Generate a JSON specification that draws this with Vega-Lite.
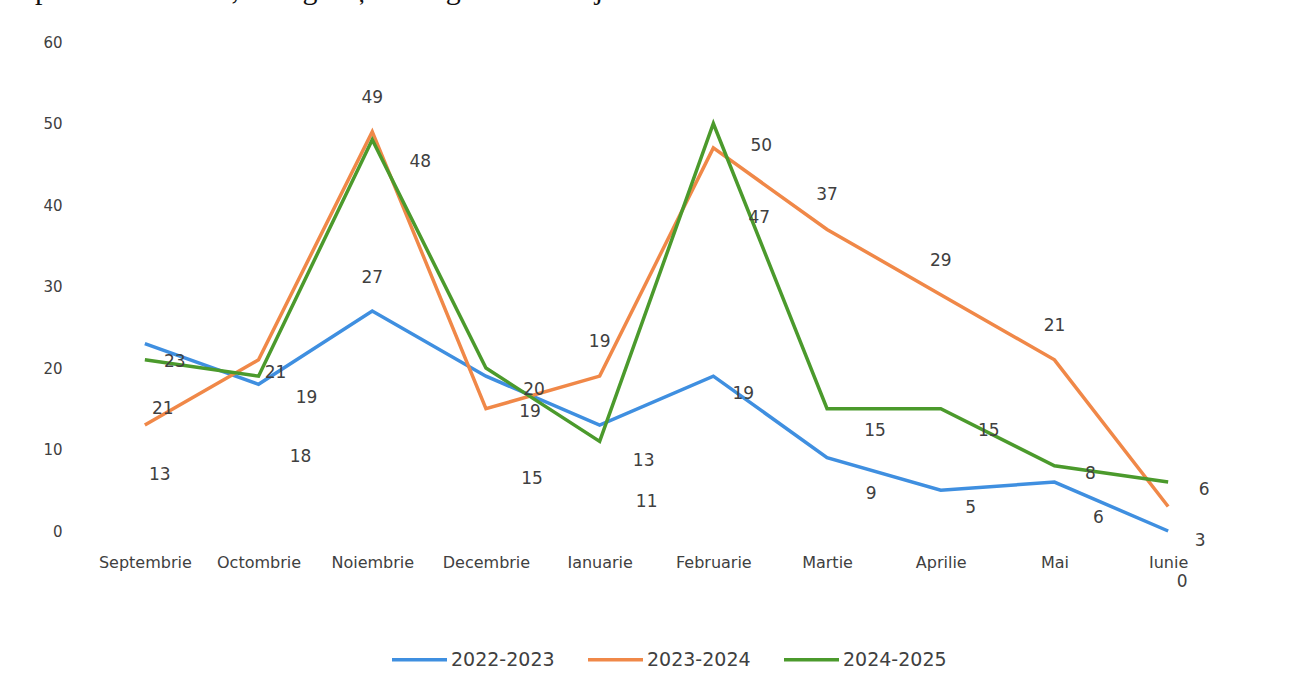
{
  "$schema": "https://vega.github.io/schema/vega-lite/v6.json",
  "autosize": {"type": "none"},
  "width": 1137,
  "height": 489,
  "padding": {"left": 88, "top": 42, "right": 77, "bottom": 157},
  "background": "white",
  "title": {
    "text": "septembrie – iunie, se regăsește în figura de mai jos.",
    "anchor": "start",
    "frame": "group",
    "dx": -78,
    "offset": 30,
    "font": "Liberation Serif",
    "fontSize": 30,
    "fontWeight": "normal",
    "color": "#111111"
  },
  "data": {
    "values": [
      {"month": "Septembrie", "season": "2022-2023", "value": 23},
      {"month": "Octombrie", "season": "2022-2023", "value": 18},
      {"month": "Noiembrie", "season": "2022-2023", "value": 27},
      {"month": "Decembrie", "season": "2022-2023", "value": 19},
      {"month": "Ianuarie", "season": "2022-2023", "value": 13},
      {"month": "Februarie", "season": "2022-2023", "value": 19},
      {"month": "Martie", "season": "2022-2023", "value": 9},
      {"month": "Aprilie", "season": "2022-2023", "value": 5},
      {"month": "Mai", "season": "2022-2023", "value": 6},
      {"month": "Iunie", "season": "2022-2023", "value": 0},
      {"month": "Septembrie", "season": "2023-2024", "value": 13},
      {"month": "Octombrie", "season": "2023-2024", "value": 21},
      {"month": "Noiembrie", "season": "2023-2024", "value": 49},
      {"month": "Decembrie", "season": "2023-2024", "value": 15},
      {"month": "Ianuarie", "season": "2023-2024", "value": 19},
      {"month": "Februarie", "season": "2023-2024", "value": 47},
      {"month": "Martie", "season": "2023-2024", "value": 37},
      {"month": "Aprilie", "season": "2023-2024", "value": 29},
      {"month": "Mai", "season": "2023-2024", "value": 21},
      {"month": "Iunie", "season": "2023-2024", "value": 3},
      {"month": "Septembrie", "season": "2024-2025", "value": 21},
      {"month": "Octombrie", "season": "2024-2025", "value": 19},
      {"month": "Noiembrie", "season": "2024-2025", "value": 48},
      {"month": "Decembrie", "season": "2024-2025", "value": 20},
      {"month": "Ianuarie", "season": "2024-2025", "value": 11},
      {"month": "Februarie", "season": "2024-2025", "value": 50},
      {"month": "Martie", "season": "2024-2025", "value": 15},
      {"month": "Aprilie", "season": "2024-2025", "value": 15},
      {"month": "Mai", "season": "2024-2025", "value": 8},
      {"month": "Iunie", "season": "2024-2025", "value": 6}
    ]
  },
  "encoding": {
    "x": {
      "field": "month",
      "type": "nominal",
      "sort": ["Septembrie", "Octombrie", "Noiembrie", "Decembrie", "Ianuarie", "Februarie", "Martie", "Aprilie", "Mai", "Iunie"],
      "scale": {"type": "point", "padding": 0.5},
      "axis": {
        "title": null,
        "labelAngle": 0,
        "domain": false,
        "ticks": false,
        "grid": false,
        "labelPadding": 23,
        "labelFont": "DejaVu Sans",
        "labelFontSize": 16,
        "labelColor": "#404040"
      }
    },
    "y": {
      "field": "value",
      "type": "quantitative",
      "scale": {"domain": [0, 60], "nice": false},
      "axis": {
        "title": null,
        "values": [0, 10, 20, 30, 40, 50, 60],
        "domain": false,
        "ticks": false,
        "grid": false,
        "labelPadding": 26,
        "labelFont": "DejaVu Sans",
        "labelFontSize": 15,
        "labelColor": "#404040"
      }
    },
    "text": {"field": "value", "type": "quantitative"}
  },
  "layer": [
    {
      "mark": {"type": "line", "strokeWidth": 3.5, "strokeJoin": "miter"},
      "encoding": {
        "text": null,
        "color": {
          "field": "season",
          "type": "nominal",
          "scale": {"domain": ["2022-2023", "2023-2024", "2024-2025"], "range": ["#3f8fe0", "#f08848", "#4b9a2c"]},
          "legend": {
            "title": null,
            "orient": "none",
            "legendX": 302,
            "legendY": 588,
            "direction": "horizontal",
            "symbolType": "stroke",
            "symbolSize": 3025,
            "symbolStrokeWidth": 3.5,
            "columnPadding": 26,
            "labelFont": "DejaVu Sans",
            "labelFontSize": 19,
            "labelColor": "#404040",
            "labelOffset": 2
          }
        }
      }
    },
    {
      "transform": [{"filter": "datum.season === '2022-2023' && indexof(['Decembrie','Ianuarie','Martie','Mai'], datum.month) >= 0"}],
      "mark": {"type": "text", "dx": 44, "dy": 36, "font": "DejaVu Sans", "fontSize": 17, "color": "#404040"}
    },
    {
      "transform": [{"filter": "datum.season === '2022-2023' && indexof(['Septembrie','Februarie','Aprilie'], datum.month) >= 0"}],
      "mark": {"type": "text", "dx": 30, "dy": 18, "font": "DejaVu Sans", "fontSize": 17, "color": "#404040"}
    },
    {
      "transform": [{"filter": "datum.season === '2022-2023' && datum.month === 'Octombrie'"}],
      "mark": {"type": "text", "dx": 42, "dy": 73, "font": "DejaVu Sans", "fontSize": 17, "color": "#404040"}
    },
    {
      "transform": [{"filter": "datum.season === '2022-2023' && datum.month === 'Noiembrie'"}],
      "mark": {"type": "text", "dx": 0, "dy": -33, "font": "DejaVu Sans", "fontSize": 17, "color": "#404040"}
    },
    {
      "transform": [{"filter": "datum.season === '2022-2023' && datum.month === 'Iunie'"}],
      "mark": {"type": "text", "dx": 14, "dy": 51, "font": "DejaVu Sans", "fontSize": 17, "color": "#404040"}
    },
    {
      "transform": [{"filter": "datum.season === '2023-2024' && indexof(['Noiembrie','Ianuarie','Martie','Aprilie','Mai'], datum.month) >= 0"}],
      "mark": {"type": "text", "dx": 0, "dy": -34, "font": "DejaVu Sans", "fontSize": 17, "color": "#404040"}
    },
    {
      "transform": [{"filter": "datum.season === '2023-2024' && indexof(['Decembrie','Februarie'], datum.month) >= 0"}],
      "mark": {"type": "text", "dx": 46, "dy": 70, "font": "DejaVu Sans", "fontSize": 17, "color": "#404040"}
    },
    {
      "transform": [{"filter": "datum.season === '2023-2024' && datum.month === 'Septembrie'"}],
      "mark": {"type": "text", "dx": 15, "dy": 50, "font": "DejaVu Sans", "fontSize": 17, "color": "#404040"}
    },
    {
      "transform": [{"filter": "datum.season === '2023-2024' && datum.month === 'Iunie'"}],
      "mark": {"type": "text", "dx": 32, "dy": 34, "font": "DejaVu Sans", "fontSize": 17, "color": "#404040"}
    },
    {
      "transform": [{"filter": "datum.season === '2023-2024' && datum.month === 'Octombrie'"}],
      "mark": {"type": "text", "dx": 17, "dy": 13, "font": "DejaVu Sans", "fontSize": 17, "color": "#404040"}
    },
    {
      "transform": [{"filter": "datum.season === '2024-2025' && indexof(['Octombrie','Noiembrie','Decembrie','Februarie','Martie','Aprilie'], datum.month) >= 0"}],
      "mark": {"type": "text", "dx": 48, "dy": 22, "font": "DejaVu Sans", "fontSize": 17, "color": "#404040"}
    },
    {
      "transform": [{"filter": "datum.season === '2024-2025' && indexof(['Mai','Iunie'], datum.month) >= 0"}],
      "mark": {"type": "text", "dx": 36, "dy": 8, "font": "DejaVu Sans", "fontSize": 17, "color": "#404040"}
    },
    {
      "transform": [{"filter": "datum.season === '2024-2025' && datum.month === 'Septembrie'"}],
      "mark": {"type": "text", "dx": 18, "dy": 49, "font": "DejaVu Sans", "fontSize": 17, "color": "#404040"}
    },
    {
      "transform": [{"filter": "datum.season === '2024-2025' && datum.month === 'Ianuarie'"}],
      "mark": {"type": "text", "dx": 47, "dy": 61, "font": "DejaVu Sans", "fontSize": 17, "color": "#404040"}
    }
  ],
  "config": {"view": {"stroke": null}}
}
